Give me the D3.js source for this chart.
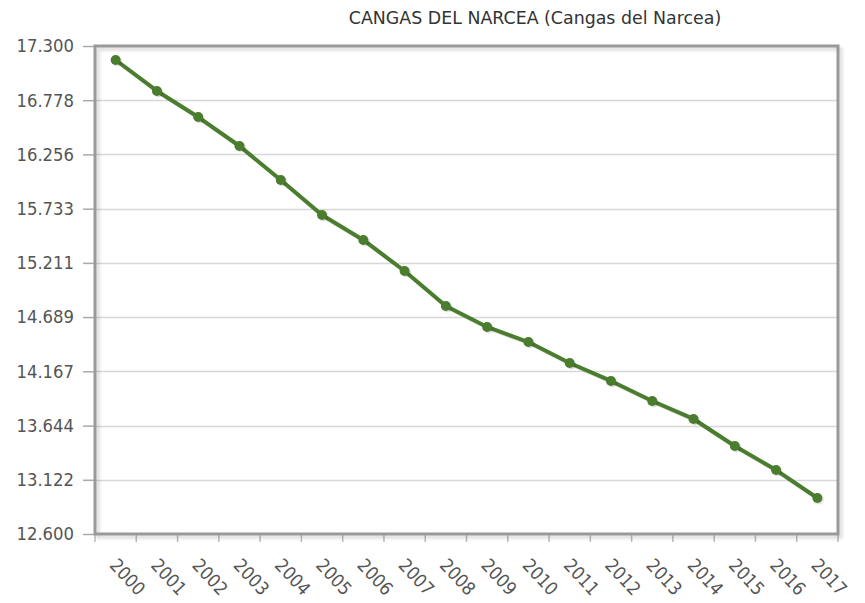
<!DOCTYPE html>
<html>
<head>
<meta charset="utf-8">
<script src="https://cdn.jsdelivr.net/npm/d3@7"></script>
<style>
  body { margin: 0; background: #fff; }
  svg { display: block; }
  .lbl { font-family: "DejaVu Sans Condensed", "DejaVu Sans", sans-serif; font-stretch: condensed; }
</style>
</head>
<body>
<div id="chart"></div>
<script>
let width = 865;
let height = 603;
let margin = { top: 46, bottom: 69, left: 95, right: 27 };

// data (population, in thousands)
const years = ["2000", "2001", "2002", "2003", "2004", "2005", "2006", "2007", "2008",
  "2009", "2010", "2011", "2012", "2013", "2014", "2015", "2016", "2017"];
const population = [17.165, 16.867, 16.616, 16.337, 16.009, 15.672, 15.432, 15.133, 14.796,
  14.594, 14.449, 14.247, 14.074, 13.881, 13.708, 13.448, 13.216, 12.947];
const yTicks = [12.6, 13.122, 13.644, 14.167, 14.689, 15.211, 15.733, 16.256, 16.778, 17.3];
const title = "CANGAS DEL NARCEA (Cangas del Narcea)";

const lineColor = "#4b7d2e";
const frameColor = "#999";

let svg = d3
  .select("#chart")
  .append("svg")
  .attr("width", width)
  .attr("height", height);

let x = d3
  .scaleBand()
  .domain(years)
  .range([margin.left, width - margin.right]);
let y = d3
  .scaleLinear()
  .domain([12.6, 17.3])
  .range([height - margin.bottom, margin.top]);

const fmt = d3.format(".3f");

// title
svg.append("text")
  .attr("x", 535)
  .attr("y", 24)
  .attr("text-anchor", "middle")
  .style("font-family", "DejaVu Sans, Verdana, sans-serif")
  .style("font-size", "17.4px")
  .style("fill", "#333")
  .text(title);

// grid lines
svg.append("g")
  .selectAll("line")
  .data(yTicks.slice(1, -1))
  .enter()
  .append("line")
  .attr("x1", margin.left)
  .attr("x2", width - margin.right)
  .attr("y1", (d) => Math.round(y(d)) + 0.5)
  .attr("y2", (d) => Math.round(y(d)) + 0.5)
  .attr("stroke", "#d8d8d8")
  .attr("stroke-width", 1.5);

// y axis (ticks outside frame)
let yAxis = svg.append("g")
  .attr("transform", `translate(${margin.left},0)`)
  .call(d3.axisLeft(y).tickValues(yTicks).tickSize(12).tickPadding(9).tickFormat(fmt));
yAxis.select(".domain").remove();
yAxis.selectAll("line").attr("stroke", "#aaa").attr("stroke-width", 1.5);
yAxis.selectAll("text")
  .attr("class", "lbl")
  .style("font-size", "18.3px")
  .style("fill", "#555");

// x axis ticks at band boundaries
let xAxisG = svg.append("g")
  .attr("transform", `translate(0,${height - margin.bottom})`);
xAxisG.selectAll("line")
  .data(years.concat(["end"]))
  .enter()
  .append("line")
  .attr("x1", (d, i) => margin.left + i * x.bandwidth())
  .attr("x2", (d, i) => margin.left + i * x.bandwidth())
  .attr("y1", 0)
  .attr("y2", 8)
  .attr("stroke", "#bbb")
  .attr("stroke-width", 1.5);
xAxisG.selectAll("text")
  .data(years)
  .enter()
  .append("text")
  .attr("class", "lbl")
  .attr("transform", (d) => `translate(${x(d) + x.bandwidth() / 2 - 7},${32}) rotate(47)`)
  .attr("text-anchor", "start")
  .style("font-size", "18.3px")
  .style("fill", "#555")
  .text((d) => d);

// frame with shadow
const defs = svg.append("defs");
const blur = defs.append("filter").attr("id", "shadow")
  .attr("x", "-10%").attr("y", "-10%").attr("width", "120%").attr("height", "120%");
blur.append("feGaussianBlur").attr("stdDeviation", 1.5);

svg.append("rect")
  .attr("x", margin.left + 3)
  .attr("y", margin.top + 3)
  .attr("width", width - margin.left - margin.right)
  .attr("height", height - margin.top - margin.bottom)
  .attr("fill", "none")
  .attr("stroke", "#000")
  .attr("stroke-opacity", 0.15)
  .attr("stroke-width", 3)
  .attr("filter", "url(#shadow)");
svg.append("rect")
  .attr("x", margin.left)
  .attr("y", margin.top)
  .attr("width", width - margin.left - margin.right)
  .attr("height", height - margin.top - margin.bottom)
  .attr("fill", "none")
  .attr("stroke", frameColor)
  .attr("stroke-width", 3);

// line + markers
const cx = (d, i) => x(years[i]) + x.bandwidth() / 2;
const line = d3.line().x(cx).y((d) => y(d));

let series = svg.append("g");
series.append("path")
  .datum(population)
  .attr("d", line)
  .attr("transform", "translate(1.5,1.5)")
  .attr("fill", "none")
  .attr("stroke", "#000")
  .attr("stroke-opacity", 0.12)
  .attr("stroke-width", 4);
series.append("path")
  .datum(population)
  .attr("d", line)
  .attr("fill", "none")
  .attr("stroke", lineColor)
  .attr("stroke-width", 4)
  .attr("stroke-linejoin", "round");
series.selectAll("circle.sh")
  .data(population)
  .enter()
  .append("circle")
  .attr("class", "sh")
  .attr("cx", (d, i) => cx(d, i) + 1.5)
  .attr("cy", (d) => y(d) + 1.5)
  .attr("r", 5)
  .attr("fill", "#000")
  .attr("fill-opacity", 0.12);
series.selectAll("circle.pt")
  .data(population)
  .enter()
  .append("circle")
  .attr("class", "pt")
  .attr("cx", cx)
  .attr("cy", (d) => y(d))
  .attr("r", 5)
  .attr("fill", lineColor);
</script>
</body>
</html>
